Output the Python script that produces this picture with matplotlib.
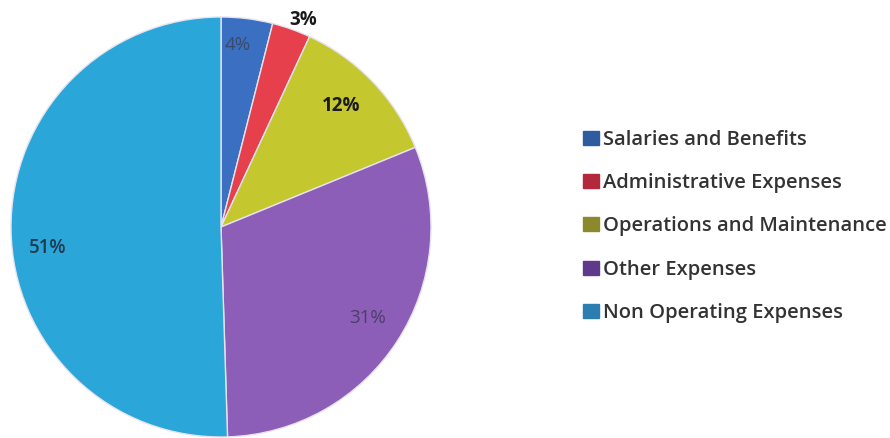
import numpy as np
import matplotlib.pyplot as plt
from matplotlib.patches import Patch

categories = ["Salaries and Benefits", "Administrative Expenses",
              "Operations and Maintenance", "Other Expenses",
              "Non Operating Expenses"]
shares = [4, 3, 12, 31, 51]
labels = ["4%", "3%", "12%", "31%", "51%"]

colors = ["#3b6fc2", "#e5404c", "#c4c82e", "#8d5eb7", "#2aa6d9"]
legend_colors = ["#2f5c9e", "#b3283c", "#8a8a2a", "#5f3a8a", "#2a7fb0"]

fig = plt.figure(figsize=(8.9, 4.38), dpi=100)
ax = fig.add_axes([11 / 890, 1 / 438, 420 / 890, 420 / 438])

wedges, _ = ax.pie(shares, colors=colors, startangle=90, counterclock=False,
                   wedgeprops=dict(edgecolor="#e6e3ee", linewidth=1.0))
ax.set_xlim(-1, 1)
ax.set_ylim(-1, 1)
ax.set_aspect("equal")

# label radius / angle nudges per wedge
radius = [0.87, 1.06, 0.81, 0.82, 0.83]
nudge = [2, -2, 1.5, 1, 6]
styles = [dict(color="#3a4a6a", fontweight="normal"),
          dict(color="#1a1a1a", fontweight="bold"),
          dict(color="#1a1a1a", fontweight="bold"),
          dict(color="#4a3f6a", fontweight="normal"),
          dict(color="#1f3a50", fontweight="semibold")]

total = sum(shares)
cum = np.cumsum([0] + shares)
for i, lab in enumerate(labels):
    mid = 90 - 360 * (cum[i] + shares[i] / 2) / total + nudge[i]
    t = np.deg2rad(mid)
    ax.text(radius[i] * np.cos(t), radius[i] * np.sin(t), lab,
            ha="center", va="center", fontsize=13.5, family="Open Sans",
            **styles[i])

handles = [Patch(facecolor=c, edgecolor=c) for c in legend_colors]
fig.legend(handles, categories, loc="center left",
           bbox_to_anchor=(565 / 890, 0.483), frameon=False,
           handlelength=0.8, handleheight=0.7, handletextpad=0.2,
           labelspacing=1.15,
           prop=dict(family="Open Sans", weight="semibold", size=14.5),
           labelcolor="#333333")

fig.savefig("out.png", dpi=100)
